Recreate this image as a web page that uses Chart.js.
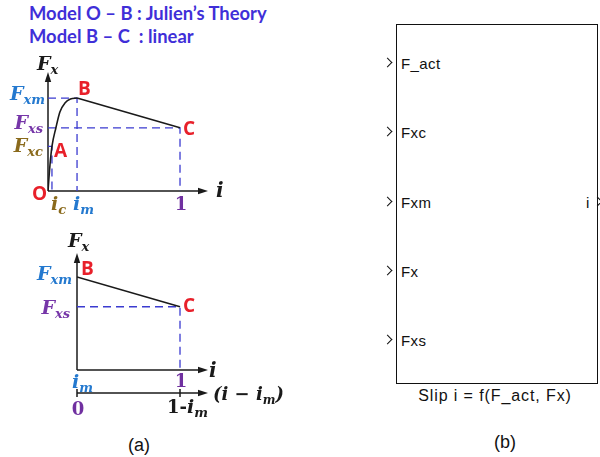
<!DOCTYPE html>
<html>
<head>
<meta charset="utf-8">
<script src="https://cdn.jsdelivr.net/npm/chart.js@4.4.0/dist/chart.umd.min.js"></script>
<style>
  html, body { margin: 0; padding: 0; background: #fff; }
  body { width: 600px; height: 457px; position: relative; overflow: hidden; font-family: Arial, "Liberation Sans", sans-serif; }
  .title { position: absolute; left: 29px; font: bold 18.4px Lato, sans-serif; line-height: 19px; color: #3f2fd8; white-space: pre; }
  canvas { position: absolute; left: 0; }
  #topPlot { top: 0; }
  #botPlot { top: 230px; }
  .block { position: absolute; left: 396px; top: 24px; width: 202px; height: 360px; border: 1.5px solid #111; box-sizing: border-box; }
  .port { position: absolute; font-size: 15px; line-height: 17px; letter-spacing: 0.4px; color: #111; white-space: pre; }
  .chev { position: absolute; width: 6px; height: 6px; border-top: 1.8px solid #111; border-right: 1.8px solid #111; transform: rotate(45deg); }
  .caption { position: absolute; font-size: 16px; line-height: 18px; color: #111; white-space: pre; transform: translateX(-50%); }
  .panel { font-size: 18px; line-height: 20px; }
</style>
</head>
<body>
<div class="title" style="top:4px">Model O – B : Julien’s Theory</div>
<div class="title" style="top:27px">Model B – C  : linear</div>
<canvas id="topPlot" width="300" height="230"></canvas>
<canvas id="botPlot" width="300" height="200"></canvas>
<div class="block" id="block"></div>
<div class="caption" style="left:495px; top:387px; letter-spacing:0.9px">Slip i = f(F_act, Fx)</div>
<div class="caption panel" style="left:139px; top:435px">(a)</div>
<div class="caption panel" style="left:505px; top:432px">(b)</div>
<script>
// Julien part O-B: slip i vs. normalised longitudinal force Fx
const slipOB  = [0, 0.015, 0.03, 0.06, 0.09, 0.13, 0.17, 0.22];
const forceOB = [0, 0.28, 0.48, 0.68, 0.85, 0.95, 0.99, 1.0];
// linear part B-C
const slipBC  = [0.22, 1.0];
const forceBC = [1.0, 0.68];

// characteristic force levels and slips
const FXM = 1.0, FXS = 0.68, FXC = 0.48;
const IM = 0.22, IC = 0.03;

// block inputs / outputs
const portNames = ['F_act', 'Fxc', 'Fxm', 'Fx', 'Fxs'];
const outName = 'i';

const INK = '#1a1a1a';
const RED = '#e8202a';
const C_FXM = '#2479cf';
const C_FXS = '#7636a8';
const C_FXC = '#8a6a1c';
const C_ONE = '#7030a0';
const GUIDE = '#3b3bd0';
const SERIF = '"DejaVu Serif", serif';

const xy = (xs, ys) => xs.map((x, k) => ({x: x, y: ys[k]}));

function curve(data, smooth) {
    return {
        data: data, showLine: true, borderColor: INK, borderWidth: 1.6,
        pointRadius: 0, cubicInterpolationMode: smooth ? 'monotone' : 'default', tension: 0, order: 0
    };
}

function guide(data) {
    return {
        data: data, showLine: true, borderColor: GUIDE, borderWidth: 1.3,
        borderDash: [8, 5], pointRadius: 0, tension: 0, order: 1
    };
}

// italic math text, parts = [text, isSubscript, upright]
function mathText(ctx, parts, x, y, color, align, size) {
    size = size || 19;
    const fonts = parts.map(p => p[2] ? `bold ${size - 1}px ${SERIF}`
        : p[1] ? `italic bold ${size - 6}px ${SERIF}` : `italic bold ${size}px ${SERIF}`);
    let w = 0;
    const widths = parts.map((p, k) => { ctx.font = fonts[k]; const m = ctx.measureText(p[0]).width; w += m; return m; });
    let cx = align === 'right' ? x - w : align === 'center' ? x - w / 2 : x;
    ctx.save();
    ctx.fillStyle = color;
    ctx.textBaseline = 'alphabetic';
    ctx.textAlign = 'left';
    parts.forEach((p, k) => {
        ctx.font = fonts[k];
        ctx.fillText(p[0], cx, p[1] ? y + 4 : y);
        cx += widths[k];
    });
    ctx.restore();
}

function pointLetter(ctx, t, x, y) {
    ctx.save();
    ctx.font = 'bold 19px "Open Sans", sans-serif';
    ctx.fillStyle = RED;
    ctx.textBaseline = 'alphabetic';
    ctx.fillText(t, x, y);
    ctx.restore();
}

function arrow(ctx, x1, y1, x2, y2) {
    const a = Math.atan2(y2 - y1, x2 - x1), L = 10, W = 3.2;
    ctx.beginPath();
    ctx.moveTo(x1, y1);
    ctx.lineTo(x2 - 4 * Math.cos(a), y2 - 4 * Math.sin(a));
    ctx.stroke();
    ctx.beginPath();
    ctx.moveTo(x2, y2);
    ctx.lineTo(x2 - L * Math.cos(a) + W * Math.sin(a), y2 - L * Math.sin(a) - W * Math.cos(a));
    ctx.lineTo(x2 - L * Math.cos(a) - W * Math.sin(a), y2 - L * Math.sin(a) + W * Math.cos(a));
    ctx.closePath();
    ctx.fill();
}

// axis lines with arrow heads, drawn before the data
const axesPlugin = {
    id: 'arrowAxes',
    beforeDatasetsDraw(chart) {
        const {ctx, chartArea: a} = chart;
        ctx.save();
        ctx.strokeStyle = INK;
        ctx.fillStyle = INK;
        ctx.lineWidth = 1.5;
        arrow(ctx, a.left, a.bottom, a.left, a.top);
        arrow(ctx, a.left, a.bottom, a.right, a.bottom);
        ctx.restore();
    }
};

function options(xmin, xmax, ymax, padding) {
    return {
        responsive: false,
        animation: false,
        events: [],
        layout: {padding: padding},
        plugins: {legend: {display: false}, tooltip: {enabled: false}},
        scales: {
            x: {type: 'linear', display: false, min: xmin, max: xmax},
            y: {type: 'linear', display: false, min: 0, max: ymax}
        }
    };
}

// full characteristic O-A-B-C
new Chart(document.getElementById('topPlot'), {
    type: 'scatter',
    data: {
        datasets: [
            curve(xy(slipOB, forceOB), true),
            curve(xy(slipBC, forceBC), false),
            guide([{x: 0, y: FXM}, {x: IM, y: FXM}, {x: IM, y: 0}]),
            guide([{x: 0, y: FXS}, {x: 1, y: FXS}, {x: 1, y: 0}]),
            guide([{x: 0, y: FXC}, {x: IC, y: FXC}, {x: IC, y: 0}])
        ]
    },
    options: options(0, 1.212, 1.28, {left: 48, right: 92, top: 72, bottom: 39}),
    plugins: [axesPlugin, {
        id: 'topLabels',
        afterDatasetsDraw(chart) {
            const {ctx, chartArea: a, scales: {x, y}} = chart;
            const px = v => x.getPixelForValue(v), py = v => y.getPixelForValue(v);
            mathText(ctx, [['F'], ['x', 1]], px(0) - 11, a.top - 2, INK, 'left');
            mathText(ctx, [['F'], ['xm', 1]], px(0) - 3, py(FXM) + 2, C_FXM, 'right');
            mathText(ctx, [['F'], ['xs', 1]], px(0) - 5, py(FXS) + 1, C_FXS, 'right');
            mathText(ctx, [['F'], ['xc', 1]], px(0) - 5, py(FXC) + 6, C_FXC, 'right');
            mathText(ctx, [['i']], a.right + 8, py(0) + 6, INK, 'left', 20);
            mathText(ctx, [['i'], ['c', 1]], px(IC) - 1, py(0) + 19, C_FXC, 'left');
            mathText(ctx, [['i'], ['m', 1]], px(IM) - 4, py(0) + 19, C_FXM, 'left');
            mathText(ctx, [['1', 0, 1]], px(1) + 1, py(0) + 19, C_ONE, 'center');
            pointLetter(ctx, 'B', px(IM) + 1, py(FXM) - 3);
            pointLetter(ctx, 'C', px(1) + 3, py(FXS) + 7);
            pointLetter(ctx, 'A', px(IC) + 2, py(FXC) + 11);
            pointLetter(ctx, 'O', px(0) - 16, py(0) + 9);
        }
    }]
});

// linear part only, shifted slip axis (i - im)
new Chart(document.getElementById('botPlot'), {
    type: 'scatter',
    data: {
        datasets: [
            curve(xy(slipBC, forceBC), false),
            guide([{x: IM, y: FXS}, {x: 1, y: FXS}, {x: 1, y: 0}])
        ]
    },
    options: options(IM, IM + 0.992, 1.258, {left: 77, right: 92, top: 23, bottom: 60}),
    plugins: [axesPlugin, {
        id: 'bottomLabels',
        afterDatasetsDraw(chart) {
            const {ctx, chartArea: a, scales: {x, y}} = chart;
            const px = v => x.getPixelForValue(v), py = v => y.getPixelForValue(v);
            mathText(ctx, [['F'], ['x', 1]], px(IM) - 9, a.top - 6, INK, 'left');
            mathText(ctx, [['F'], ['xm', 1]], px(IM) - 5, py(FXM) + 3, C_FXM, 'right');
            mathText(ctx, [['F'], ['xs', 1]], px(IM) - 7, py(FXS) + 7, C_FXS, 'right');
            mathText(ctx, [['i']], a.right + 1, py(0) + 7, INK, 'left', 20);
            mathText(ctx, [['i'], ['m', 1]], px(IM) - 5, py(0) + 18, C_FXM, 'left');
            mathText(ctx, [['1', 0, 1]], px(1) + 1, py(0) + 17, C_ONE, 'center');
            pointLetter(ctx, 'B', px(IM) + 4, py(FXM) - 2);
            pointLetter(ctx, 'C', px(1) + 3, py(FXS) + 5);

            // second slip axis (i - im) below the first one
            const y2 = py(0) + 23;
            ctx.save();
            ctx.strokeStyle = INK;
            ctx.fillStyle = INK;
            ctx.lineWidth = 1.5;
            arrow(ctx, px(IM), y2, a.right, y2);
            [IM, 1].forEach(v => {
                ctx.beginPath();
                ctx.moveTo(px(v), y2 - 4);
                ctx.lineTo(px(v), y2 + 4);
                ctx.stroke();
            });
            ctx.restore();
            mathText(ctx, [['0', 0, 1]], px(IM) + 1, y2 + 22, C_ONE, 'center');
            mathText(ctx, [['1-', 0, 1], ['i'], ['m', 1]], px(1) - 13, y2 + 20, INK, 'left');
            mathText(ctx, [['(i − i'], ['m', 1], [')']], a.right + 5, y2 + 7, INK, 'left', 18);
        }
    }]
});

// Simulink-style block with its ports
const rect = {left: 396, top: 24, right: 598};
function addPort(text, labelX, chevX, cy) {
    const lab = document.createElement('div');
    lab.className = 'port';
    lab.textContent = text;
    lab.style.left = labelX + 'px';
    lab.style.top = (cy - 8) + 'px';
    document.body.appendChild(lab);
    const ch = document.createElement('div');
    ch.className = 'chev';
    ch.style.left = chevX + 'px';
    ch.style.top = (cy - 4) + 'px';
    document.body.appendChild(ch);
}
portNames.forEach((name, k) => addPort(name, rect.left + 5, rect.left - 12, 63 + k * 69.25));
addPort(outName, rect.right - 12, rect.right - 4, 63 + 2 * 69.25);
</script>
</body>
</html>
